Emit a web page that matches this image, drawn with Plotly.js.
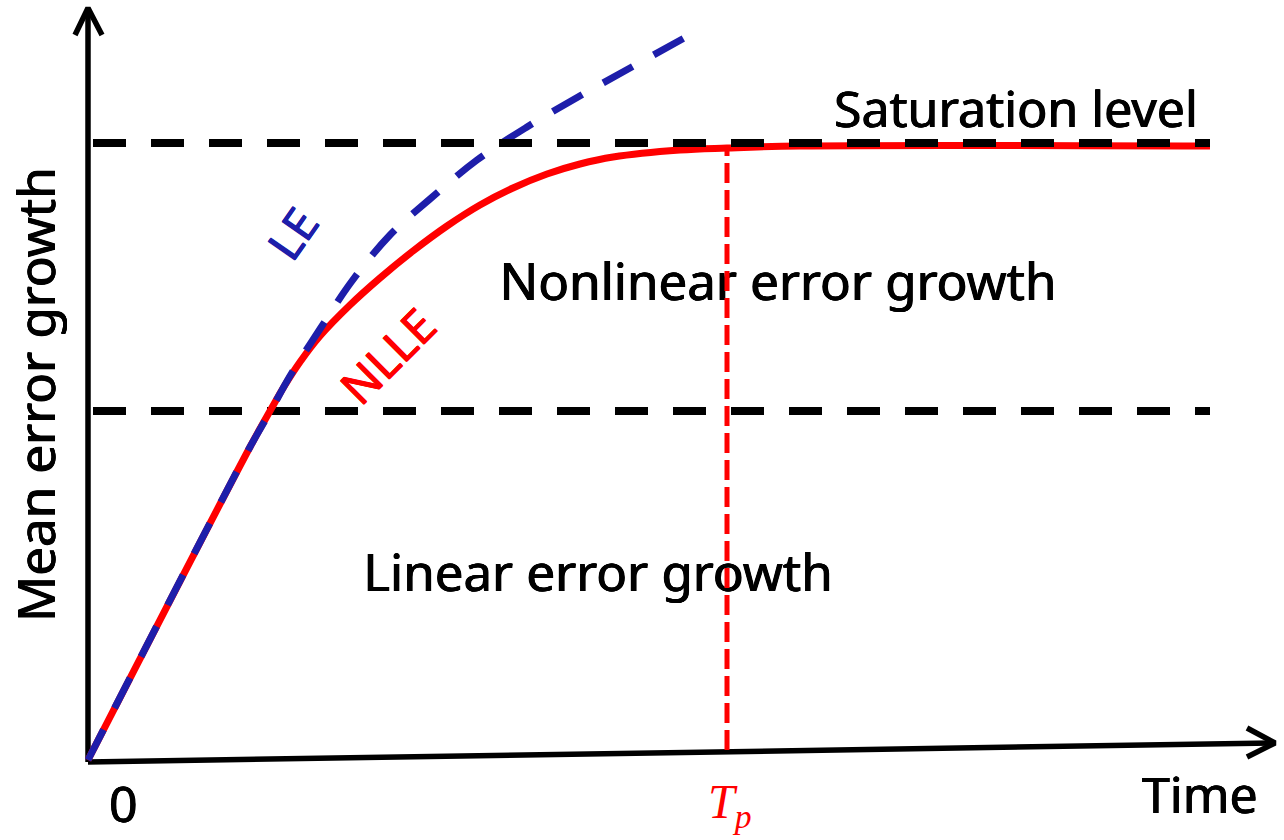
<!DOCTYPE html>
<html>
<head>
<meta charset="utf-8">
<script src="https://cdn.plot.ly/plotly-3.0.1.min.js"></script>
<style>html,body{margin:0;padding:0;background:#fff;} #chart{width:1284px;height:840px;}</style>
</head>
<body>
<div id="chart"></div>
<script>
// Schematic data (time units, error units)
const nlleTime = [0, 1.62, 1.82, 1.97, 2.12, 2.32, 2.62, 2.92, 3.25, 3.59, 3.92, 4.25, 4.59, 4.92, 5.25, 5.92, 6.39, 7.12, 11.22];
const nlleErr  = [0, 3.13, 3.49, 3.75, 3.98, 4.24, 4.55, 4.82, 5.09, 5.34, 5.55, 5.72, 5.86, 5.96, 6.03, 6.10, 6.12, 6.14, 6.14];
const leTime = [0, 1.62, 1.82, 2.02, 2.32, 2.64, 3.02, 3.42, 3.89, 4.39, 4.90, 5.42, 6.07];
const leErr  = [0, 3.13, 3.48, 3.84, 4.31, 4.79, 5.25, 5.61, 6.00, 6.33, 6.63, 6.92, 7.28];
const saturationLevel = 6.17;
const linearLimit = 3.49;
const levelStart = 0.05;
const levelEnd = 11.22;
const tp = 6.39;
const xAxisLineT = [0, 11.85];
const xAxisLineE = [-0.02, 0.17];
const xArrowT = [11.59, 11.87, 11.59];
const xArrowE = [0.32, 0.17, 0.03];
const yAxisLineT = [0, 0];
const yAxisLineE = [-0.02, 7.5];
const yArrowT = [-0.13, 0, 0.14];
const yArrowE = [7.25, 7.52, 7.25];

const FONT = "Noto Sans, Open Sans, sans-serif";
const BLUE = "#1e1eaa";
const RED = "#ff0000";
function sh(c) { return "0.55px 0 0 " + c + ", -0.55px 0 0 " + c + ", 0 0.4px 0 " + c; }

const traces = [
  {x: [5.10], y: [1.82], mode: "text", text: ["Linear error growth"], textfont: {family: FONT, size: 51, color: "#000", shadow: sh("#000")}, hoverinfo: "skip"},
  {x: [6.90], y: [4.73], mode: "text", text: ["Nonlinear error growth"], textfont: {family: FONT, size: 51, color: "#000", shadow: sh("#000")}, hoverinfo: "skip"},
  {x: xAxisLineT, y: xAxisLineE, mode: "lines", line: {color: "#000", width: 5.5}},
  {x: xArrowT, y: xArrowE, mode: "lines", line: {color: "#000", width: 5.5}},
  {x: yAxisLineT, y: yAxisLineE, mode: "lines", line: {color: "#000", width: 5.5}},
  {x: yArrowT, y: yArrowE, mode: "lines", line: {color: "#000", width: 5.5}},
  {x: [levelStart, levelEnd], y: [linearLimit, linearLimit], mode: "lines", line: {color: "#000", width: 8, dash: "33px,25px"}},
  {x: [tp, tp], y: [0.1, 6.12], mode: "lines", line: {color: RED, width: 5, dash: "20px,7px"}},
  {x: nlleTime, y: nlleErr, mode: "lines", line: {color: RED, width: 7, shape: "spline", smoothing: 1}},
  {x: leTime, y: leErr, mode: "lines", line: {color: BLUE, width: 7, dash: "34px,24px", shape: "spline", smoothing: 1}},
  {x: [levelStart, levelEnd], y: [saturationLevel, saturationLevel], mode: "lines", line: {color: "#000", width: 8, dash: "33px,25px"}}
];

const annotations = [
  {x: -0.53, y: 3.65, text: "Mean error growth", textangle: -90, font: {family: FONT, size: 51, color: "#000", shadow: sh("#000")}},
  {x: 0.35, y: -0.43, text: "0", font: {family: FONT, size: 50, color: "#000", shadow: sh("#000")}},
  {x: 11.12, y: -0.34, text: "Time", font: {family: FONT, size: 50, color: "#000", shadow: sh("#000")}},
  {x: 6.42, y: -0.45, text: "<i>T</i><sub><i>p</i></sub>", font: {family: "Liberation Serif, serif", size: 48, color: RED}},
  {x: 9.28, y: 6.52, text: "Saturation level", font: {family: FONT, size: 50, color: "#000", shadow: sh("#000")}},
  {x: 2.04, y: 5.27, text: "LE", textangle: -55, font: {family: FONT, size: 46, color: BLUE, shadow: sh(BLUE)}},
  {x: 2.99, y: 4.04, text: "NLLE", textangle: -45, font: {family: FONT, size: 47, color: RED, shadow: sh(RED)}}
].map(a => Object.assign({xref: "x", yref: "y", showarrow: false, xanchor: "center", yanchor: "middle"}, a));

const layout = {
  width: 1284, height: 840,
  margin: {l: 0, r: 0, t: 0, b: 0},
  paper_bgcolor: "#fff", plot_bgcolor: "#fff",
  showlegend: false,
  xaxis: {range: [-0.88, 11.96], visible: false, fixedrange: true},
  yaxis: {range: [-0.8, 7.6], visible: false, fixedrange: true},
  annotations: annotations
};

Plotly.newPlot("chart", traces, layout, {displayModeBar: false, staticPlot: true});
</script>
</body>
</html>
